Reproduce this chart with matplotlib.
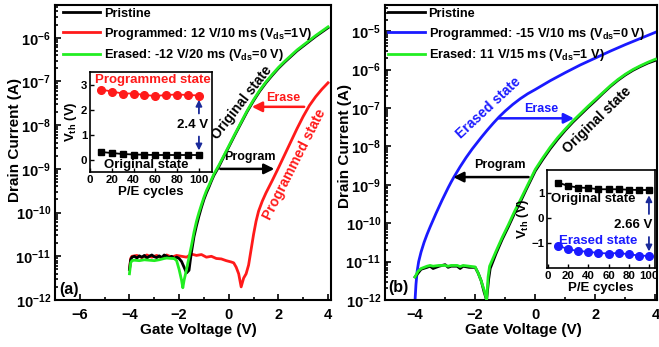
import numpy as np
import matplotlib
matplotlib.use('Agg')
import matplotlib.pyplot as plt
from matplotlib.ticker import LogLocator, MultipleLocator, NullFormatter, FixedLocator, LogFormatterMathtext

plt.rcParams['font.family'] = ['Liberation Sans', 'DejaVu Sans']
plt.rcParams['font.weight'] = 'bold'
plt.rcParams['axes.labelweight'] = 'bold'
plt.rcParams['mathtext.fontset'] = 'custom'
plt.rcParams['mathtext.rm'] = 'Liberation Sans:bold'
plt.rcParams['mathtext.it'] = 'Liberation Sans:bold'
plt.rcParams['mathtext.bf'] = 'Liberation Sans:bold'
plt.rcParams['mathtext.default'] = 'regular'

# ---------------- data: panel (a) (log10 of drain current) ----------------
a_pristine_v = [-4.0, -3.95, -3.9, -3.8, -3.7, -3.6, -3.5, -3.4, -3.3, -3.2, -3.1, -3.0, -2.9, -2.8,
                -2.7, -2.6, -2.5, -2.4, -2.3, -2.2, -2.1, -2.0, -1.9, -1.8, -1.7, -1.6, -1.55, -1.5,
                -1.4, -1.3, -1.2, -1.1, -1.0, -0.9, -0.8, -0.7, -0.6, -0.5, -0.4, -0.2, 0.0, 0.25,
                0.5, 0.75, 1.0, 1.25, 1.5, 1.75, 2.0, 2.25, 2.5, 2.75, 3.0, 3.25, 3.5, 3.75, 4.0]
a_pristine_log = [-11.3, -11.08, -11.02, -11.0, -11.04, -10.99, -11.02, -10.98, -11.04, -11.0, -10.97,
                  -11.01, -11.03, -10.99, -11.03, -10.97, -11.0, -11.03, -11.0, -11.05, -11.02, -11.05,
                  -11.12, -11.25, -11.38, -11.32, -11.1, -10.9, -10.55, -10.3, -10.08, -9.88, -9.7,
                  -9.55, -9.42, -9.28, -9.15, -9.05, -8.95, -8.72, -8.5, -8.22, -7.95, -7.68, -7.44,
                  -7.22, -7.03, -6.86, -6.7, -6.56, -6.43, -6.3, -6.19, -6.08, -5.97, -5.87, -5.77]

a_prog_v = [-4.0, -3.95, -3.9, -3.7, -3.5, -3.3, -3.1, -2.9, -2.7, -2.5, -2.3, -2.1, -1.9, -1.7,
            -1.5, -1.3, -1.1, -0.9, -0.7, -0.5, -0.3, -0.1, 0.1, 0.2, 0.3, 0.4, 0.5, 0.6, 0.7,
            0.8, 0.9, 1.0, 1.1, 1.2, 1.35, 1.5, 1.75, 2.0, 2.25, 2.5, 2.75, 3.0, 3.25, 3.5, 3.75,
            4.0]
a_prog_log = [-11.3, -11.05, -11.0, -10.98, -11.03, -10.97, -11.02, -10.98, -11.04, -10.97, -11.02,
              -10.98, -11.0, -11.02, -10.95, -10.98, -10.96, -11.02, -11.0, -11.05, -11.06, -11.1,
              -11.13, -11.15, -11.25, -11.4, -11.7, -11.5, -11.4, -11.2, -10.85, -10.5, -10.2,
              -9.97, -9.74, -9.55, -9.27, -8.98, -8.68, -8.38, -8.08, -7.8, -7.55, -7.35, -7.18,
              -7.03]

a_erase_v = [-4.0, -3.95, -3.9, -3.8, -3.6, -3.4, -3.2, -3.0, -2.8, -2.6, -2.5, -2.3, -2.2, -2.1,
             -2.0, -1.9, -1.85, -1.8, -1.7, -1.6, -1.5, -1.4, -1.3, -1.2, -1.1, -1.0, -0.9, -0.8,
             -0.7, -0.6, -0.5, -0.4, -0.2, 0.0, 0.25, 0.5, 0.75, 1.0, 1.25, 1.5, 1.75, 2.0, 2.25,
             2.5, 2.75, 3.0, 3.25, 3.5, 3.75, 4.0]
a_erase_log = [-11.4, -11.15, -11.1, -11.09, -11.1, -11.08, -11.09, -11.1, -11.08, -11.05, -11.04,
               -11.05, -11.05, -11.1, -11.3, -11.55, -11.72, -11.55, -11.3, -11.02, -10.75,
               -10.45, -10.2, -10.0, -9.82, -9.65, -9.5, -9.38, -9.25, -9.12, -9.02, -8.92, -8.7,
               -8.48, -8.2, -7.93, -7.66, -7.42, -7.2, -7.01, -6.84, -6.68, -6.54, -6.41, -6.28,
               -6.17, -6.06, -5.95, -5.85, -5.75]

# ---------------- data: panel (b) ----------------
b_pristine_v = [-4.0, -3.9, -3.8, -3.6, -3.5, -3.4, -3.2, -3.0, -2.9, -2.8, -2.6, -2.5, -2.4, -2.2,
                -2.0, -1.9, -1.8, -1.7, -1.62, -1.55, -1.5, -1.3, -1.1, -0.9, -0.7, -0.5, -0.3,
                0.0, 0.25, 0.5, 0.75, 1.0, 1.25, 1.5, 1.75, 2.0, 2.25, 2.5, 2.75, 3.0, 3.25, 3.5,
                3.75, 4.0]
b_pristine_log = [-11.4, -11.3, -11.2, -11.15, -11.12, -11.18, -11.12, -11.08, -11.15, -11.12,
                  -11.12, -11.18, -11.12, -11.15, -11.15, -11.3, -11.5, -11.8, -12.0, -11.45,
                  -11.18, -10.78, -10.42, -10.1, -9.76, -9.45, -9.12, -8.64, -8.34, -8.06, -7.81,
                  -7.58, -7.37, -7.18, -6.99, -6.81, -6.62, -6.44, -6.28, -6.14, -6.02, -5.92,
                  -5.83, -5.76]

b_prog_v = [-4.0, -3.97, -3.93, -3.88, -3.8, -3.7, -3.6, -3.5, -3.4, -3.3, -3.2, -3.1, -3.0, -2.9,
            -2.8, -2.7, -2.6, -2.5, -2.4, -2.3, -2.2, -2.1, -2.0, -1.8, -1.6, -1.4, -1.2, -1.0,
            -0.75, -0.5, -0.25, 0.0, 0.5, 1.0, 1.5, 2.0, 2.5, 3.0, 3.5, 4.0]
b_prog_log = [-12.0, -11.6, -11.25, -11.0, -10.75, -10.5, -10.29, -10.1, -9.92, -9.74, -9.57,
              -9.4, -9.24, -9.08, -8.93, -8.79, -8.66, -8.53, -8.41, -8.29, -8.18, -8.07, -7.97,
              -7.77, -7.58, -7.4, -7.23, -7.08, -6.91, -6.76, -6.63, -6.52, -6.29, -6.08, -5.88,
              -5.7, -5.52, -5.35, -5.19, -5.03]

b_erase_v = [-4.0, -3.9, -3.8, -3.6, -3.5, -3.4, -3.2, -3.0, -2.9, -2.8, -2.6, -2.5, -2.4, -2.2,
             -2.0, -1.9, -1.8, -1.7, -1.62, -1.57, -1.52, -1.3, -1.1, -0.9, -0.7, -0.5, -0.3,
             0.0, 0.25, 0.5, 0.75, 1.0, 1.25, 1.5, 1.75, 2.0, 2.25, 2.5, 2.75, 3.0, 3.25, 3.5,
             3.75, 4.0]
b_erase_log = [-11.4, -11.25, -11.18, -11.12, -11.1, -11.12, -11.1, -11.1, -11.12, -11.1, -11.1,
               -11.13, -11.1, -11.12, -11.14, -11.3, -11.5, -11.75, -12.0, -11.4, -11.12, -10.72,
               -10.37, -10.05, -9.71, -9.4, -9.08, -8.6, -8.3, -8.02, -7.77, -7.55, -7.34, -7.15,
               -6.96, -6.78, -6.6, -6.42, -6.26, -6.12, -6.0, -5.9, -5.81, -5.73]

# ---------------- inset data ----------------
cycles = [10, 20, 30, 40, 50, 60, 70, 80, 90, 100]
a_vth_prog = [2.82, 2.74, 2.66, 2.66, 2.6, 2.56, 2.6, 2.62, 2.6, 2.58]
a_vth_orig = [0.32, 0.28, 0.24, 0.22, 0.21, 0.2, 0.2, 0.2, 0.2, 0.2]
b_vth_orig = [1.42, 1.28, 1.22, 1.2, 1.15, 1.15, 1.15, 1.13, 1.12, 1.12]
b_vth_erase = [-1.1, -1.25, -1.32, -1.35, -1.4, -1.42, -1.4, -1.45, -1.5, -1.52]

RED = '#ff1a1a'
GREEN = '#22ee22'
BLUE = '#1a1aff'
NAVY = '#1a2a9a'

W, H = 659, 347
fig = plt.figure(figsize=(W / 100, H / 100), dpi=100)


def px_axes(l, t, r, b):
    return fig.add_axes([l / W, 1 - b / H, (r - l) / W, (b - t) / H])


def L(a):
    return 10.0 ** np.asarray(a)


def style_main(ax, xt, yt):
    ax.set_yscale('log')
    for s in ax.spines.values():
        s.set_linewidth(1.5)
    ax.yaxis.set_major_locator(FixedLocator(yt))
    ax.yaxis.set_major_formatter(LogFormatterMathtext())
    minors = [m * 10.0 ** e for e in range(-12, -4) for m in range(2, 10)]
    ax.yaxis.set_minor_locator(FixedLocator(minors))
    ax.yaxis.set_minor_formatter(NullFormatter())
    ax.xaxis.set_major_locator(FixedLocator(xt))
    ax.xaxis.set_minor_locator(FixedLocator([v + 1 for v in xt[:-1]]))
    ax.tick_params(which='both', direction='in', width=1.2)
    ax.tick_params(which='major', length=4)
    ax.tick_params(which='minor', length=2)
    ax.tick_params(axis='x', pad=6, labelsize=10.5)
    ax.tick_params(axis='y', pad=3, labelsize=10.5)
    for lab in ax.get_xticklabels() + ax.get_yticklabels():
        lab.set_fontweight('bold')


# ================= panel (a) =================
ax1 = px_axes(55, 5, 331, 300)
ax1.plot(a_prog_v, L(a_prog_log), color=RED, lw=2.0, label='Programmed: 12 V/10 ms (V$_{ds}$=1V)', zorder=2)
ax1.plot(a_pristine_v, L(a_pristine_log), color='black', lw=2.0, label='Pristine', zorder=3)
ax1.plot(a_erase_v, L(a_erase_log), color=GREEN, lw=2.0, label='Erased: -12 V/20 ms (V$_{ds}$=0 V)', zorder=4)
ax1.set_xlim(-7, 4.12)
ax1.set_ylim(1e-12, 10 ** -5.25)
style_main(ax1, [-6, -4, -2, 0, 2, 4], [1e-12, 1e-11, 1e-10, 1e-9, 1e-8, 1e-7, 1e-6])
h, l = ax1.get_legend_handles_labels()
ax1.legend([h[1], h[0], h[2]], [l[1], l[0], l[2]], loc='upper left', bbox_to_anchor=(0.025, 0.995),
           frameon=False, fontsize=9.2, handlelength=2.9, handletextpad=0.3, labelspacing=0.45,
           borderaxespad=0, borderpad=0.1)
ax1.text(0.05, 0.034, '(a)', transform=ax1.transAxes, fontsize=11.5, fontweight='bold',
         ha='center', va='center')
ax1.text(0.53, 10 ** -7.49, 'Original state', rotation=52, rotation_mode='anchor', ha='center',
         va='center', fontsize=10, fontweight='bold', color='black')
ax1.text(2.67, 10 ** -8.9, 'Programmed state', rotation=63, rotation_mode='anchor', ha='center',
         va='center', fontsize=10, fontweight='bold', color=RED)
ax1.annotate('', xy=(1.95, 1e-9), xytext=(-0.45, 1e-9),
             arrowprops=dict(arrowstyle='-|>', color='black', lw=1.8, mutation_scale=15))
ax1.text(0.85, 10 ** -8.72, 'Program', ha='center', va='center', fontsize=9, fontweight='bold')
ax1.annotate('', xy=(0.82, 10 ** -7.58), xytext=(3.15, 10 ** -7.58),
             arrowprops=dict(arrowstyle='-|>', color=RED, lw=1.8, mutation_scale=15))
ax1.text(2.2, 10 ** -7.38, 'Erase', ha='center', va='center', fontsize=9, fontweight='bold', color=RED)

# inset (a)
ia = px_axes(90, 72, 212, 172)
ia.plot(cycles, a_vth_prog, '-o', color=RED, ms=5.5, lw=1.3)
ia.plot(cycles, a_vth_orig, '-s', color='black', ms=4.5, lw=1.3)
ia.set_xlim(0, 112)
ia.set_ylim(-0.48, 3.52)
ia.xaxis.set_major_locator(FixedLocator([0, 20, 40, 60, 80, 100]))
ia.yaxis.set_major_locator(FixedLocator([0, 1, 2, 3]))
ia.tick_params(direction='in', length=3, width=1, labelsize=8.2, pad=2)
for s in ia.spines.values():
    s.set_linewidth(1.2)
for lab in ia.get_xticklabels() + ia.get_yticklabels():
    lab.set_fontweight('bold')
ia.set_xlabel('P/E cycles', fontsize=9.5, fontweight='bold', labelpad=1)
ia.set_ylabel('V$_{th}$ (V)', fontsize=9.5, fontweight='bold', labelpad=1)
ia.text(58, 3.2, 'Programmed state', color=RED, fontsize=9.5, fontweight='bold', ha='center', va='center')
ia.text(52, -0.2, 'Original state', color='black', fontsize=9.5, fontweight='bold', ha='center', va='center')
ia.text(94, 1.4, '2.4 V', color='black', fontsize=9.5, fontweight='bold', ha='center', va='center')
ia.annotate('', xy=(100, 2.52), xytext=(100, 1.75),
            arrowprops=dict(arrowstyle='-|>', color=NAVY, lw=1.3, mutation_scale=9))
ia.annotate('', xy=(100, 0.27), xytext=(100, 1.05),
            arrowprops=dict(arrowstyle='-|>', color=NAVY, lw=1.3, mutation_scale=9))

fig.text(15 / W, 1 - 140 / H, 'Drain Current (A)', rotation=90, ha='center', va='center',
         fontsize=11, fontweight='bold')
fig.text(198 / W, 1 - 330 / H, 'Gate Voltage (V)', ha='center', va='center', fontsize=11, fontweight='bold')

# ================= panel (b) =================
ax2 = px_axes(385, 5, 657, 300)
ax2.plot(b_pristine_v, L(b_pristine_log), color='black', lw=2.0, label='Pristine', zorder=3)
ax2.plot(b_prog_v, L(b_prog_log), color=BLUE, lw=2.0, label='Programmed: -15 V/10 ms (V$_{ds}$=0 V)', zorder=2)
ax2.plot(b_erase_v, L(b_erase_log), color=GREEN, lw=2.0, label='Erased: 11 V/15 ms (V$_{ds}$=1 V)', zorder=4)
ax2.set_xlim(-5, 4.05)
ax2.set_ylim(1e-12, 10 ** -4.32)
style_main(ax2, [-4, -2, 0, 2, 4], [1e-12, 1e-11, 1e-10, 1e-9, 1e-8, 1e-7, 1e-6, 1e-5])
ax2.legend(loc='upper left', bbox_to_anchor=(0.005, 0.995), frameon=False, fontsize=9.2,
           handlelength=2.9, handletextpad=0.3, labelspacing=0.45, borderaxespad=0, borderpad=0.1)
ax2.text(0.05, 0.044, '(b)', transform=ax2.transAxes, fontsize=11.5, fontweight='bold',
         ha='center', va='center')
ax2.text(-1.54, 10 ** -7.0, 'Erased state', rotation=43, rotation_mode='anchor', ha='center',
         va='center', fontsize=10, fontweight='bold', color=BLUE)
ax2.text(2.05, 10 ** -7.32, 'Original state', rotation=44, rotation_mode='anchor', ha='center',
         va='center', fontsize=10, fontweight='bold', color='black')
ax2.annotate('', xy=(-2.82, 10 ** -8.8), xytext=(-0.13, 10 ** -8.8),
             arrowprops=dict(arrowstyle='-|>', color='black', lw=1.8, mutation_scale=15))
ax2.text(-1.18, 10 ** -8.49, 'Program', ha='center', va='center', fontsize=9, fontweight='bold')
ax2.annotate('', xy=(1.38, 10 ** -7.27), xytext=(-1.31, 10 ** -7.27),
             arrowprops=dict(arrowstyle='-|>', color=BLUE, lw=1.8, mutation_scale=15))
ax2.text(0.2, 10 ** -7.03, 'Erase', ha='center', va='center', fontsize=9, fontweight='bold', color=BLUE)

# inset (b)
ib = px_axes(547, 170, 655, 268)
ib.plot(cycles, b_vth_orig, '-s', color='black', ms=4.5, lw=1.3)
ib.plot(cycles, b_vth_erase, '-o', color=BLUE, ms=5.5, lw=1.3)
ib.set_xlim(-1, 106)
ib.set_ylim(-2.0, 1.92)
ib.xaxis.set_major_locator(FixedLocator([0, 20, 40, 60, 80, 100]))
ib.yaxis.set_major_locator(FixedLocator([-1, 0, 1]))
ib.tick_params(direction='in', length=3, width=1, labelsize=8.2, pad=2)
for s in ib.spines.values():
    s.set_linewidth(1.2)
for lab in ib.get_xticklabels() + ib.get_yticklabels():
    lab.set_fontweight('bold')
ib.set_xlabel('P/E cycles', fontsize=9.5, fontweight='bold', labelpad=1)
ib.set_ylabel('V$_{th}$ (V)', fontsize=9.5, fontweight='bold', labelpad=0)
ib.text(45, 0.75, 'Original state', color='black', fontsize=9.5, fontweight='bold', ha='center', va='center')
ib.text(50, -0.9, 'Erased state', color=BLUE, fontsize=9.5, fontweight='bold', ha='center', va='center')
ib.text(84, -0.3, '2.66 V', color='black', fontsize=9.5, fontweight='bold', ha='center', va='center')
ib.annotate('', xy=(100, 1.02), xytext=(100, 0.05),
            arrowprops=dict(arrowstyle='-|>', color=NAVY, lw=1.3, mutation_scale=9))
ib.annotate('', xy=(100, -1.45), xytext=(100, -0.65),
            arrowprops=dict(arrowstyle='-|>', color=NAVY, lw=1.3, mutation_scale=9))

fig.text(345 / W, 1 - 146 / H, 'Drain Current (A)', rotation=90, ha='center', va='center',
         fontsize=11, fontweight='bold')
fig.text(523 / W, 1 - 330 / H, 'Gate Voltage (V)', ha='center', va='center', fontsize=11, fontweight='bold')

fig.savefig('out.png', dpi=100)
